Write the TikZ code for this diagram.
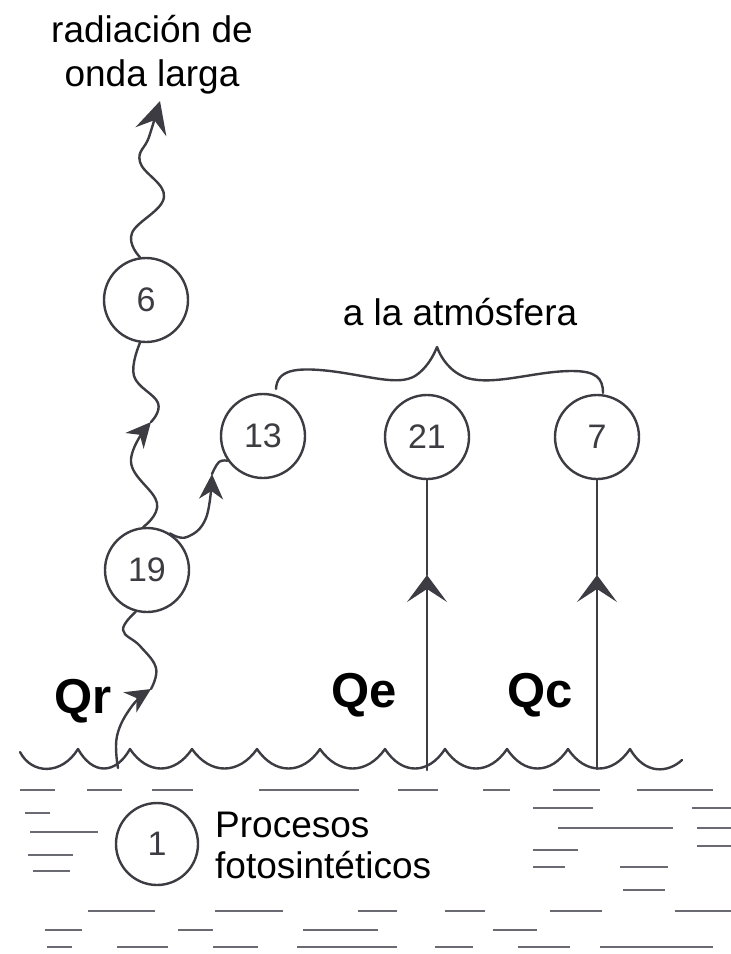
\documentclass[tikz,border=0pt]{standalone}
\usepackage{fontspec}
\setmainfont{Liberation Sans}
\usetikzlibrary{arrows.meta}
\definecolor{ink}{HTML}{3C3C42}
\definecolor{dashc}{HTML}{6A6A72}
\begin{document}
\begin{tikzpicture}[x=1pt,y=-1pt,
  ink line/.style={draw=ink, line width=2.4pt, line cap=round, line join=round},
  bubble/.style={circle, draw=ink, line width=2.4pt, minimum size=84pt, inner sep=0pt, font=\fontsize{34}{34}\selectfont, text=ink},
  lbl/.style={font=\fontsize{37}{44}\selectfont, inner sep=0pt},
  qlbl/.style={font=\fontsize{49}{49}\selectfont\bfseries, inner sep=0pt},
  wdash/.style={draw=dashc, line width=1.6pt},
  bigtip/.style={-{Stealth[length=32pt,width=32pt,inset=12pt]}},
  midtip/.style={-{Stealth[length=25pt,width=24pt,inset=8pt]}},
  uptip/.style={-{Stealth[length=27pt,width=40pt,inset=13pt]}},
]
\useasboundingbox (0,0) rectangle (731,954);

% water dashes
\foreach \y/\a/\b in {790/20/55, 790/87/122, 790/152/193, 790/259/359, 790/398/438, 790/483/510, 790/553/600, 790/637/713,
  808/533/593, 808/692/731, 813/25/50, 828/558/673, 828/697/731, 832/30/98, 846/697/731, 850/533/578,
  855/28/73, 867/533/565, 867/620/668, 871/33/70, 890/623/665,
  911/88/155, 911/215/283, 911/358/397, 911/445/485, 911/550/602, 911/675/731,
  930/45/82, 930/178/213, 930/303/378, 930/493/537,
  947/47/72, 947/117/168, 947/213/258, 947/297/397, 947/435/473, 947/518/570, 947/600/713}
  \draw[wdash] (\a,\y) -- (\b,\y);

% water surface
\draw[ink line] (20,752) .. controls (32,775) and (62,775) .. (78,749)
  foreach \a/\b in {78/130,130/192,192/257,257/320,320/385,385/445,445/507,507/568,568/630}
    { .. controls ({\a+0.28*(\b-\a)},775) and ({\b-0.28*(\b-\a)},775) .. (\b,749) }
  .. controls (645,775) and (668,773) .. (682,760);

% circles
\node[bubble] (c6) at (146,300) {6};
\node[bubble] (c19) at (147,570) {19};
\node[bubble] (c13) at (263,436) {13};
\node[bubble] (c21) at (427,437) {21};
\node[bubble] (c7) at (597,437) {7};
\node[bubble, minimum size=82pt] (c1) at (157,844) {1};

% labels
\node[lbl, align=center, anchor=base] (rad) at (152,86) {radiación de\\onda larga};
\node[lbl, anchor=base] (atm) at (460,325) {a la atmósfera};
\node[lbl, font=\fontsize{37}{41}\selectfont, align=left, anchor=base west] (proc) at (215,878) {Procesos\\fotosintéticos};
\node[qlbl, anchor=base] (qr) at (83,713) {Qr};
\node[qlbl, anchor=base] (qe) at (364,707) {Qe};
\node[qlbl, anchor=base] (qc) at (540,707) {Qc};

% helper coordinates
\coordinate (s19) at (118,768);
\coordinate (s21) at (427,770);
\coordinate (s7) at (597,769);
\coordinate (aQr) at (151,689);
\coordinate (a6) at (151,422);
\coordinate (a13) at (212,474);
\coordinate (top) at (160,101);
\coordinate (m21) at (427,575);
\coordinate (m7) at (597,575);

% wavy radiation paths
\draw[ink line, midtip] plot[smooth, tension=0.7] coordinates {(s19) (117,736) (132,706) (aQr)};
\draw[ink line] plot[smooth, tension=0.7] coordinates {(aQr) (156,668) (140,646) (123,630) (c19.255)};
\draw[ink line, midtip] plot[smooth, tension=0.7] coordinates {(c19.95) (157,503) (131,462) (a6)};
\draw[ink line] plot[smooth, tension=0.7] coordinates {(a6) (158,403) (134,376) (c6.262)};
\draw[ink line, bigtip] plot[smooth, tension=0.7] coordinates {(c6.98) (132,233) (164,197) (140,162) (149,137) (top)};
\draw[ink line, midtip] plot[smooth, tension=0.7] coordinates {(c19.58) (187,537) (206,518) (a13)};
\draw[ink line] plot[smooth, tension=0.7] coordinates {(a13) (219,462) (c13.215)};

% vertical fluxes
\draw[ink line, uptip] (s21) -- (m21);
\draw[ink line] (m21) -- (c21.south);
\draw[ink line, uptip] (s7) -- (m7);
\draw[ink line] (m7) -- (c7.south);

% brace
\draw[ink line] (276,389) .. controls (277,370) and (295,367) .. (330,371)
  .. controls (370,376) and (398,386) .. (415,376)
  .. controls (426,369) and (433,357) .. (437,347)
  .. controls (441,358) and (450,372) .. (467,378)
  .. controls (495,386) and (535,371) .. (572,371)
  .. controls (596,371) and (603,378) .. (603,393);
\end{tikzpicture}
\end{document}
